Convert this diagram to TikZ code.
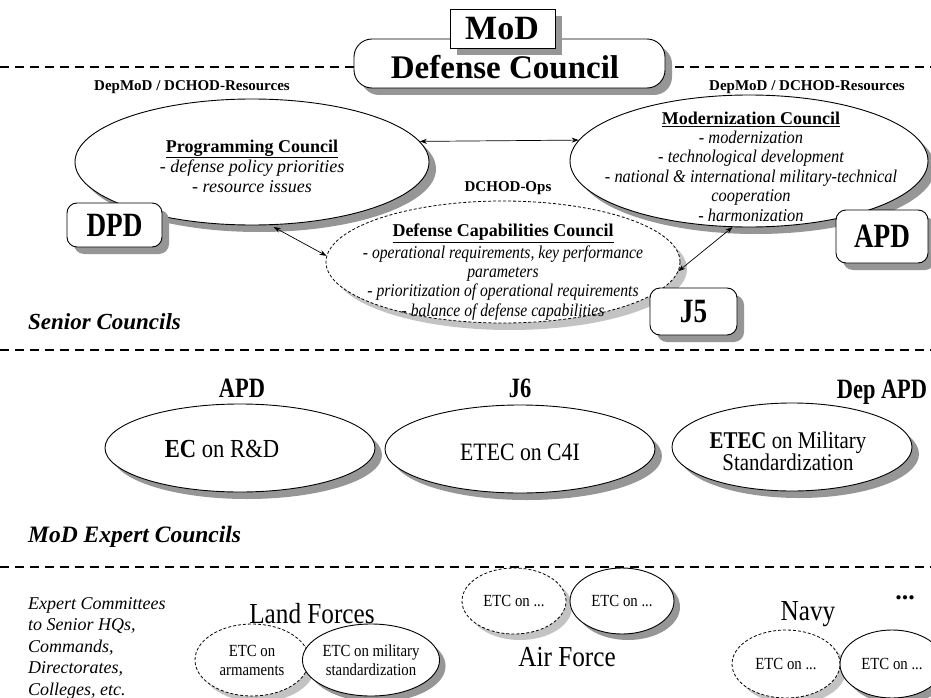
\documentclass[tikz,border=0pt]{standalone}
\usepackage{fontspec}
\setmainfont{Liberation Serif}
\newfontfamily\narrowA[FakeStretch=0.87]{Liberation Serif}
\newfontfamily\narrowB[FakeStretch=0.91]{Liberation Serif}
\newfontfamily\narrowC[FakeStretch=0.80]{Liberation Serif}
\usetikzlibrary{shadows,shapes.geometric,arrows.meta}

\definecolor{shadowgray}{RGB}{150,150,150}
\definecolor{lightshadow}{RGB}{195,195,195}

\newcommand{\fs}[1]{\fontsize{#1}{1.12\dimexpr#1pt\relax}\selectfont}
% italic body lines, slightly condensed
\newcommand{\itA}[1]{{\narrowA\itshape #1}}
\newcommand{\itB}[1]{{\narrowB\itshape #1}}

\tikzset{
  shd/.style={drop shadow={shadow xshift=7pt,shadow yshift=-7pt,fill=shadowgray,opacity=1}},
  lshd/.style={drop shadow={shadow xshift=7pt,shadow yshift=-7pt,fill=lightshadow,opacity=1}},
  sshd/.style={drop shadow={shadow xshift=6pt,shadow yshift=-6pt,fill=shadowgray,opacity=1}},
  slshd/.style={drop shadow={shadow xshift=6pt,shadow yshift=-6pt,fill=lightshadow,opacity=1}},
  oval/.style={ellipse,draw,fill=white,inner sep=0pt,line width=0.9pt},
  dashoval/.style={oval,dash pattern=on 3pt off 2pt,line width=0.8pt},
  tag/.style={draw,fill=white,rounded corners=10pt,inner sep=0pt,line width=0.9pt,
              font=\narrowC\fs{34}\bfseries},
  txt/.style={inner sep=0pt,align=center},
  sep/.style={line width=1.5pt,dash pattern=on 9pt off 6pt},
  link/.style={{Stealth[length=7pt,width=5pt]}-{Stealth[length=7pt,width=5pt]},line width=0.7pt},
  head/.style={txt,anchor=base,font=\narrowC\fs{28}\bfseries},
  etc/.style={font=\narrowA\fontsize{17}{19}\selectfont,align=center},
  force/.style={txt,font=\narrowA\fs{29}},
}

\begin{document}
\begin{tikzpicture}[x=1pt,y=-1pt]
\useasboundingbox (0,0) rectangle (931,698);
\fill[white] (0,0) rectangle (931,698);

% level separators
\coordinate (s1l) at (0,67);   \coordinate (s1r) at (931,67);
\coordinate (s2l) at (0,350);  \coordinate (s2r) at (931,350);
\coordinate (s3l) at (0,567);  \coordinate (s3r) at (931,567);
\draw[sep] (s1l) -- (s1r);
\draw[sep] (s2l) -- (s2r);
\draw[sep] (s3l) -- (s3r);

% ---------- top: MoD / Defense Council ----------
\node[shd,draw,fill=white,rounded corners=18pt,line width=0.9pt,
      minimum width=311pt,minimum height=49pt,inner sep=0pt] (dc) at (509.5,63.5) {};
\node[txt,font=\fs{33}\bfseries] (dct) at (505,67) {Defense Council};
\node[shd,draw,fill=white,line width=0.9pt,minimum width=105pt,minimum height=39pt,
      inner sep=0pt] (mod) at (502.5,28.5) {};
\node[txt,font=\fs{34}\bfseries] (modt) at (502,29) {MoD};

% ---------- senior councils ----------
\node[txt,font=\fs{15}\bfseries] (dep1) at (192,87) {DepMoD / DCHOD-Resources};
\node[txt,font=\fs{15}\bfseries] (dep2) at (807,87) {DepMoD / DCHOD-Resources};
\node[txt,font=\fs{15}\bfseries] (ops) at (508,188) {DCHOD-Ops};

\node[oval,shd,minimum width=354pt,minimum height=126pt] (pc) at (252,162) {};
\node[txt,font=\fontsize{18}{20}\selectfont] (pct) at (252,166)
  {\textbf{\underline{Programming Council}}\\ \textit{- defense policy priorities}\\ \textit{- resource issues}};

\node[oval,shd,minimum width=358pt,minimum height=132pt] (mc) at (749,161) {};
\node[txt,font=\fontsize{18}{19.4}\selectfont] (mct) at (751,166.5)
  {\textbf{\underline{Modernization Council}}\\ \itB{- modernization}\\ \itB{- technological development}\\
   \itB{- national \& international military-technical}\\ \itB{cooperation}\\ \itB{- harmonization}};

\node[dashoval,lshd,minimum width=354pt,minimum height=122pt] (dcc) at (503,262) {};
\node[txt,font=\fontsize{18}{19.2}\selectfont] (dcct) at (503,272)
  {\textbf{\underline{Defense Capabilities Council}}\\[2.5pt] \itA{- operational requirements, key performance}\\
   \itA{parameters}\\ \itA{- prioritization of operational requirements}\\ \itA{- balance of defense capabilities}};

\draw[link] (pc.7) -- (mc.173);
\draw[link,shorten <=4pt] (pc.-74) -- (dcc.178);
\draw[link] (mc.-104) -- (dcc.-3);

\node[tag,shd,minimum width=95pt,minimum height=44pt] (dpd) at (114.5,225) {DPD};
\node[tag,shd,minimum width=92pt,minimum height=53pt] (apd) at (882,236.5) {APD};
\node[tag,shd,minimum width=87pt,minimum height=47pt] (j5) at (693.5,311.5) {J5};

\node[txt,anchor=west,font=\fs{23}\bfseries\itshape] (senior) at (28,322) {Senior Councils};

% ---------- MoD expert councils ----------
\node[head] (h1) at (242,397) {APD};
\node[head] (h2) at (520,397) {J6};
\node[head] (h3) at (882,398) {Dep APD};

\node[oval,shd,minimum width=270pt,minimum height=88pt] (ec1) at (240,448) {};
\node[txt,anchor=base,font=\narrowA\fs{26}] (ec1t) at (222,457) {\textbf{EC} on R\&D};
\node[oval,shd,minimum width=270pt,minimum height=88pt] (ec2) at (520,449) {};
\node[txt,anchor=base,font=\narrowA\fs{25}] (ec2t) at (520,460) {ETEC on C4I};
\node[oval,shd,minimum width=240pt,minimum height=88pt] (ec3) at (792,447) {};
\node[txt,font=\narrowA\fontsize{24}{22}\selectfont] (ec3t) at (788,451)
  {\textbf{ETEC} on Military\\Standardization};

\node[txt,anchor=west,font=\fs{23.5}\bfseries\itshape] (expert) at (28,537) {MoD Expert Councils};

% ---------- expert committees ----------
\node[txt,anchor=north west,align=left,font=\fontsize{18}{21.5}\selectfont\itshape] (etcl) at (28,597)
  {Expert Committees\\to Senior HQs,\\Commands,\\Directorates,\\Colleges, etc.};

\node[force] (land) at (312,614) {Land Forces};
\node[dashoval,slshd,etc,minimum width=114pt,minimum height=72pt] (lf1) at (252,660)
  {ETC on\\armaments};
\node[oval,sshd,etc,minimum width=118pt,minimum height=72pt] (lf2) at (371,660)
  {ETC on military\\standardization};

\node[dashoval,slshd,etc,minimum width=104pt,minimum height=66pt] (af1) at (514,601) {ETC on ...};
\node[oval,sshd,etc,minimum width=104pt,minimum height=66pt] (af2) at (622,601) {ETC on ...};
\node[force] (air) at (567,657) {Air Force};

\node[force] (navy) at (808,614) {Navy};
\node[dashoval,slshd,etc,minimum width=108pt,minimum height=68pt] (nv1) at (786,664) {ETC on ...};
\node[oval,sshd,etc,minimum width=104pt,minimum height=68pt] (nv2) at (892,664) {ETC on ...};
\node[txt,font=\fs{26}\bfseries] (more) at (905,598) {...};
\end{tikzpicture}
\end{document}
